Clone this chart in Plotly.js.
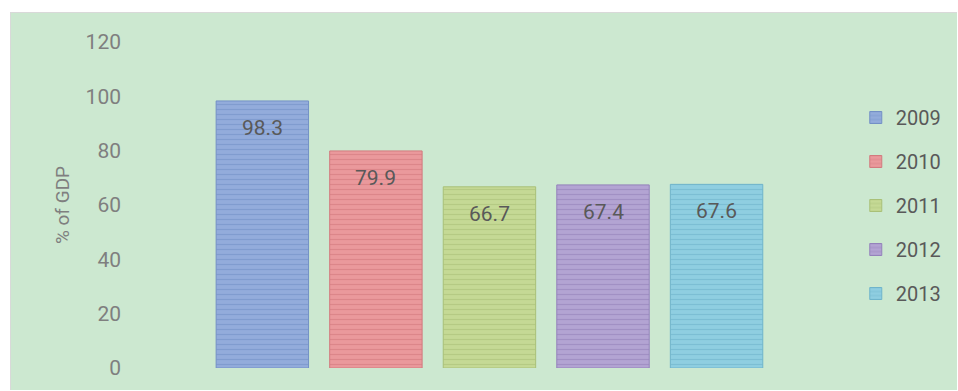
<!DOCTYPE html>
<html>
<head>
<meta charset="utf-8">
<script src="https://cdn.plot.ly/plotly-3.0.1.min.js"></script>
<style>
  html, body { margin: 0; padding: 0; background: #ffffff; width: 958px; height: 391px; overflow: hidden; }
  #chart { position: absolute; left: 10px; top: 12px; width: 946px; height: 377px; border: 1px solid #d9d9d9; border-right: none; border-bottom: none; }
</style>
</head>
<body>
<div id="chart"></div>
<script>
const years = ["2009", "2010", "2011", "2012", "2013"];
const values = [98.3, 79.9, 66.7, 67.4, 67.6];
const baseColors = ["#93acdb", "#ea999c", "#c5d995", "#b3a4d3", "#8fcee1"];
const stripeColors = ["#7390c6", "#d27a7e", "#a9c078", "#9482bb", "#6fb4cb"];
const yTicks = [0, 20, 40, 60, 80, 100, 120];

const traces = years.map((yr, i) => ({
  type: "bar",
  name: yr,
  x: [yr],
  y: [values[i]],
  legendgroup: yr,
  marker: {
    color: baseColors[i],
    line: { color: stripeColors[i], width: 1 },
    pattern: { shape: "-", size: 5, solidity: 0.25, fgcolor: stripeColors[i], bgcolor: baseColors[i], fgopacity: 0.6 }
  },
  hoverinfo: "none"
}));

const annotations = years.map((yr, i) => ({
  x: i, y: values[i], xref: "x", yref: "y",
  text: values[i].toFixed(1),
  showarrow: false, yshift: -27,
  font: { family: "Roboto, 'Open Sans', sans-serif", size: 21, color: "#595959" }
}));

const layout = {
  width: 946, height: 377,
  margin: { l: 111, r: 106, t: 29, b: 22, pad: 0 },
  paper_bgcolor: "#cce8d0",
  plot_bgcolor: "rgba(0,0,0,0)",
  barmode: "overlay",
  bargap: 0.186,
  showlegend: true,
  legend: {
    xref: "container", yref: "container",
    x: 0.893, xanchor: "left", y: 0.7745, yanchor: "top",
    maxheight: 290,
    font: { family: "Roboto, 'Open Sans', sans-serif", size: 20, color: "#595959" },
    tracegroupgap: 15, bgcolor: "rgba(0,0,0,0)", itemwidth: 30
  },
  xaxis: {
    type: "category",
    range: [-1.236, 5.184],
    showticklabels: false, showgrid: false, zeroline: false, showline: false, ticks: ""
  },
  yaxis: {
    range: [0, 120],
    tickvals: yTicks,
    ticktext: yTicks.map(String),
    showgrid: false, zeroline: false, showline: false, ticks: "",
    tickfont: { family: "Roboto, 'Open Sans', sans-serif", size: 21, color: "#7f7f7f" },
    title: { text: "% of GDP", standoff: 10, font: { family: "Roboto, 'Open Sans', sans-serif", size: 19, color: "#7f7f7f" } },
    automargin: false
  },
  annotations: annotations
};

Plotly.newPlot("chart", traces, layout, { displayModeBar: false, staticPlot: true });
</script>
</body>
</html>
